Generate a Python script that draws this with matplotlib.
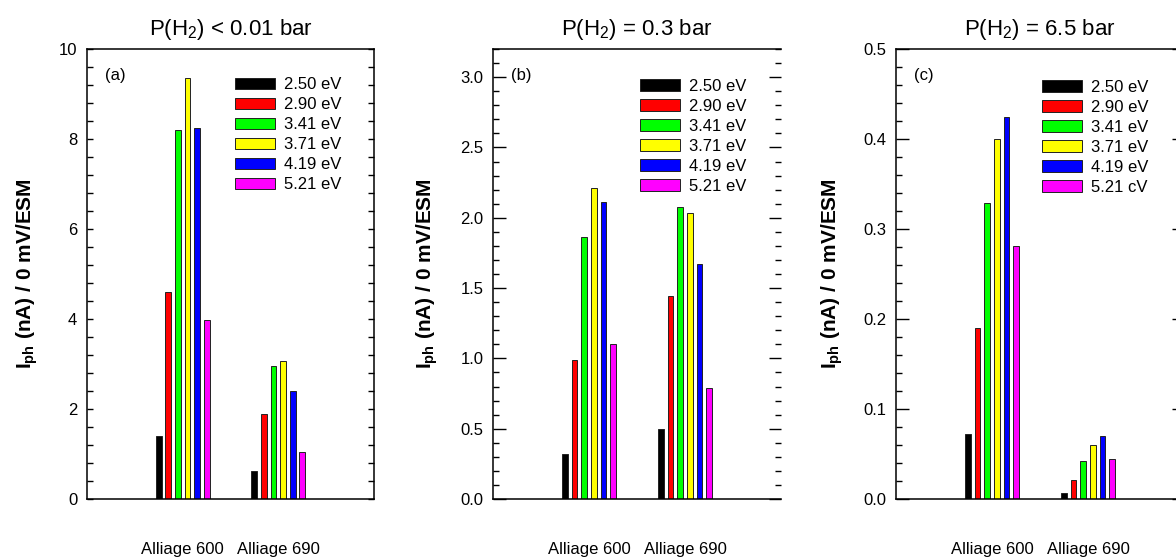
import numpy as np
import matplotlib
matplotlib.use("Agg")
from matplotlib import pyplot as plt
from matplotlib.ticker import MultipleLocator

plt.rcParams['font.family'] = ['Liberation Sans', 'DejaVu Sans']
plt.rcParams['mathtext.fontset'] = 'custom'
plt.rcParams['mathtext.rm'] = 'Liberation Sans'
plt.rcParams['mathtext.it'] = 'Liberation Sans:italic'
plt.rcParams['mathtext.bf'] = 'Liberation Sans:bold'

# data
alloys = ["Alliage 600", "Alliage 690"]
energies = ["2.50 eV", "2.90 eV", "3.41 eV", "3.71 eV", "4.19 eV", "5.21 eV"]
energies_c = ["2.50 eV", "2.90 eV", "3.41 eV", "3.71 eV", "4.19 eV", "5.21 cV"]
colors = ["#000000", "#ff0000", "#00ff00", "#ffff00", "#0000ff", "#ff00ff"]

# rows = energies, cols = alloys (600, 690)
iph_a = [[1.41, 0.62], [4.60, 1.89], [8.21, 2.95], [9.36, 3.06], [8.24, 2.40], [3.97, 1.05]]
iph_b = [[0.318, 0.496], [0.99, 1.444], [1.86, 2.074], [2.21, 2.033], [2.11, 1.672], [1.10, 0.786]]
iph_c = [[0.072, 0.0063], [0.190, 0.0208], [0.329, 0.0427], [0.400, 0.0597], [0.424, 0.0701], [0.2815, 0.0445]]

titles = ["P(H$_2$) < 0.01 bar", "P(H$_2$) = 0.3 bar", "P(H$_2$) = 6.5 bar"]
letters = ["(a)", "(b)", "(c)"]
ylims = [10, 3.2, 0.5]
majors = [2, 0.5, 0.1]
minors = [0.4, 0.1, 0.02]
ytick_fmt = ["{:.0f}", "{:.1f}", "{:.1f}"]

W, H = 1176, 557
fig = plt.figure(figsize=(W / 100, H / 100), dpi=100)

# axes boxes in pixels: left, right
boxes = [(87, 374), (493, 781), (896, 1184)]
top, bottom = 49, 499
ylab_x = [-0.209, -0.229, -0.222]
leg_x = [0.516, 0.51, 0.507]
leg_y = [0.937, 0.934, 0.931]

for k, data in enumerate([iph_a, iph_b, iph_c]):
    l, r = boxes[k]
    ax = fig.add_axes([l / W, (H - bottom) / H, (r - l) / W, (bottom - top) / H])
    data = np.array(data)
    xg = np.arange(1, len(alloys) + 1)
    labs = energies_c if k == 2 else energies
    for i in range(len(labs)):
        ax.bar(xg + (i - 2.5) * 0.1007, data[i], width=0.062, color=colors[i],
               edgecolor="#222222", linewidth=0.7, label=labs[i])
    ax.set_xlim(0, 3)
    ax.set_ylim(0, ylims[k])
    ax.set_xticks(xg)
    ax.set_xticklabels(alloys, fontsize=12)
    ax.tick_params(axis="x", length=0, pad=31)
    ax.yaxis.set_major_locator(MultipleLocator(majors[k]))
    ax.yaxis.set_minor_locator(MultipleLocator(minors[k]))
    ax.yaxis.set_major_formatter(plt.FuncFormatter(lambda v, p, f=ytick_fmt[k]: f.format(v)))
    if k == 0:
        ax.tick_params(axis="y", which="both", direction="in", left=True, right=True,
                       length=4.5, width=1, labelsize=12, pad=7)
    else:
        ax.tick_params(axis="y", which="major", direction="in", left=True, right=True,
                       length=9, width=1, labelsize=12, pad=7)
        ax.tick_params(axis="y", which="minor", direction="in", left=True, right=True,
                       length=4.5, width=1)
    for s in ax.spines.values():
        s.set_linewidth(1.1)
    if k == 1:
        ax.spines["right"].set_visible(False)
    ax.set_title(titles[k], fontsize=16, pad=10)
    ax.set_ylabel(r"I$_{\mathbf{ph}}$ (nA) / 0 mV/ESM", fontsize=15, fontweight="bold")
    ax.yaxis.label.set_va("center")
    ax.yaxis.set_label_coords(ylab_x[k], 0.5)
    ax.text(0.063, 0.942, letters[k], transform=ax.transAxes, fontsize=12, va="center")
    ax.legend(loc="upper left", bbox_to_anchor=(leg_x[k], leg_y[k]), frameon=False,
              fontsize=12, handlelength=2.4, handleheight=0.7, handletextpad=0.55,
              labelspacing=0.3, borderpad=0, borderaxespad=0)

fig.savefig("out.png", dpi=100)
